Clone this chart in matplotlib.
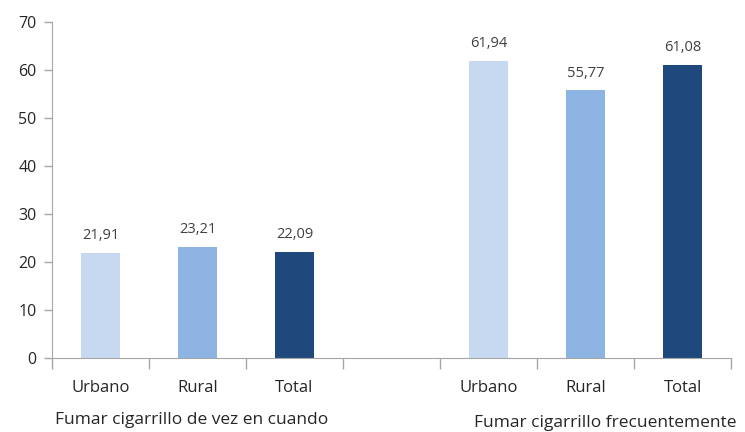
import matplotlib
matplotlib.use("Agg")
import matplotlib.pyplot as plt
import numpy as np

# --- Datos ---
categorias = ["Urbano", "Rural", "Total", "", "Urbano", "Rural", "Total"]
valores = [21.91, 23.21, 22.09, None, 61.94, 55.77, 61.08]
grupos = ["Fumar cigarrillo de vez en cuando", "Fumar cigarrillo frecuentemente"]
colores = ["#C6D9F1", "#8EB4E3", "#1F497D", None, "#C6D9F1", "#8EB4E3", "#1F497D"]

plt.rcParams['font.family'] = ['Open Sans', 'DejaVu Sans']

fig = plt.figure(figsize=(7.45, 4.32), dpi=100)
ax = fig.add_axes([0.0698, 0.171, 0.9115, 0.778])

x = np.arange(len(categorias))
for xi, v, c in zip(x, valores, colores):
    if v is None:
        continue
    ax.bar(xi, v, width=0.4, color=c)
    ax.text(xi, v + 2.0, f"{v:.2f}".replace(".", ","), ha='center', va='bottom',
            fontsize=10.5, color='#404040')

ax.set_xlim(-0.5, len(categorias) - 0.5)
ax.set_ylim(0, 70)
ax.set_yticks(range(0, 71, 10))

ax.set_xticks(x)
ax.set_xticklabels(categorias, fontsize=12, color='#262626')
ax.set_xticks(np.arange(-0.5, len(categorias), 1), minor=True)
ax.tick_params(axis='x', which='major', length=0, pad=16)
ax.tick_params(axis='x', which='minor', length=8, width=1, color='#A6A6A6')
ax.tick_params(axis='y', length=6, width=1, color='#A6A6A6', labelsize=11.5,
               labelcolor='#262626', pad=5)

for s in ['top', 'right']:
    ax.spines[s].set_visible(False)
for s in ['left', 'bottom']:
    ax.spines[s].set_color('#A6A6A6')

# etiquetas de grupo
ax.text(0.94, -0.185, grupos[0], transform=ax.get_xaxis_transform(), ha='center',
        va='center', fontsize=12.5, color='#262626')
ax.text(5.2, -0.193, grupos[1], transform=ax.get_xaxis_transform(), ha='center',
        va='center', fontsize=12.5, color='#262626')

fig.savefig("out.png", dpi=100)
